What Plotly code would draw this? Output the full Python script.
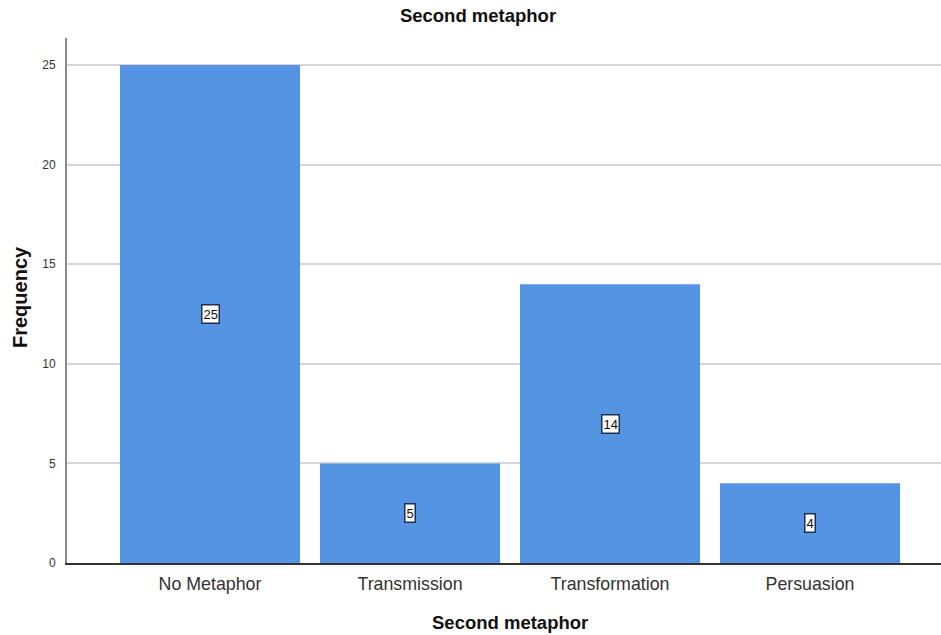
import plotly.graph_objects as go

categories = ["No Metaphor", "Transmission", "Transformation", "Persuasion"]
frequencies = [25, 5, 14, 4]
y_ticks = [0, 5, 10, 15, 20, 25]

bar_color = "#5594E3"
regular = "Liberation Sans, Arial, sans-serif"

W, H = 941, 635
L, R, T, B = 67, 0, 38, 72
pw, ph = W - L - R, H - T - B

fig = go.Figure()
fig.add_trace(go.Bar(
    x=categories,
    y=frequencies,
    width=0.9,
    marker=dict(color=bar_color, line=dict(width=0)),
    hoverinfo="skip",
))

for c, v in zip(categories, frequencies):
    fig.add_annotation(
        x=c, y=v / 2, text=str(v), showarrow=False,
        font=dict(family=regular, size=13, color="#111111"),
        bgcolor="white", bordercolor="#1f2f4f", borderwidth=1.5, borderpad=1,
    )

# x-axis title
fig.add_annotation(
    xref="paper", yref="paper",
    x=(510 - L) / pw, y=-(622 - (T + ph)) / ph,
    text="<b>Second metaphor</b>", showarrow=False,
    xanchor="center", yanchor="middle",
    font=dict(family=regular, size=18.5, color="#111111"),
)
# y-axis title
fig.add_annotation(
    xref="paper", yref="paper",
    x=-(L - 20) / pw, y=(T + ph - 297) / ph,
    text="<b>Frequency</b>", showarrow=False, textangle=-90,
    xanchor="center", yanchor="middle",
    font=dict(family=regular, size=20, color="#111111"),
)

fig.update_layout(
    width=W, height=H,
    margin=dict(l=L, r=R, t=T, b=B, autoexpand=False),
    paper_bgcolor="white", plot_bgcolor="white",
    showlegend=False,
    title=dict(
        text="<b>Second metaphor</b>", xref="container", x=478 / W, xanchor="center",
        y=1 - 16 / H, yanchor="middle",
        font=dict(family=regular, size=18.5, color="#111111"),
    ),
    xaxis=dict(
        range=[-0.715, 3.655], showgrid=False, zeroline=False,
        showline=True, linecolor="#333333", linewidth=1.5,
        ticks="", tickfont=dict(family=regular, size=17.8, color="#333333"),
        ticklabelstandoff=4,
    ),
    yaxis=dict(
        range=[0, 26.36], tickvals=y_ticks, showgrid=True,
        gridcolor="#D6D6D6", gridwidth=2, zeroline=False,
        showline=True, linecolor="#8a8a8a", linewidth=2,
        ticks="", tickfont=dict(family=regular, size=12, color="#333333"),
        ticklabelstandoff=7,
    ),
)

fig.write_html("out.html", config={"displayModeBar": False},
               post_script="document.body.style.margin='0';")
